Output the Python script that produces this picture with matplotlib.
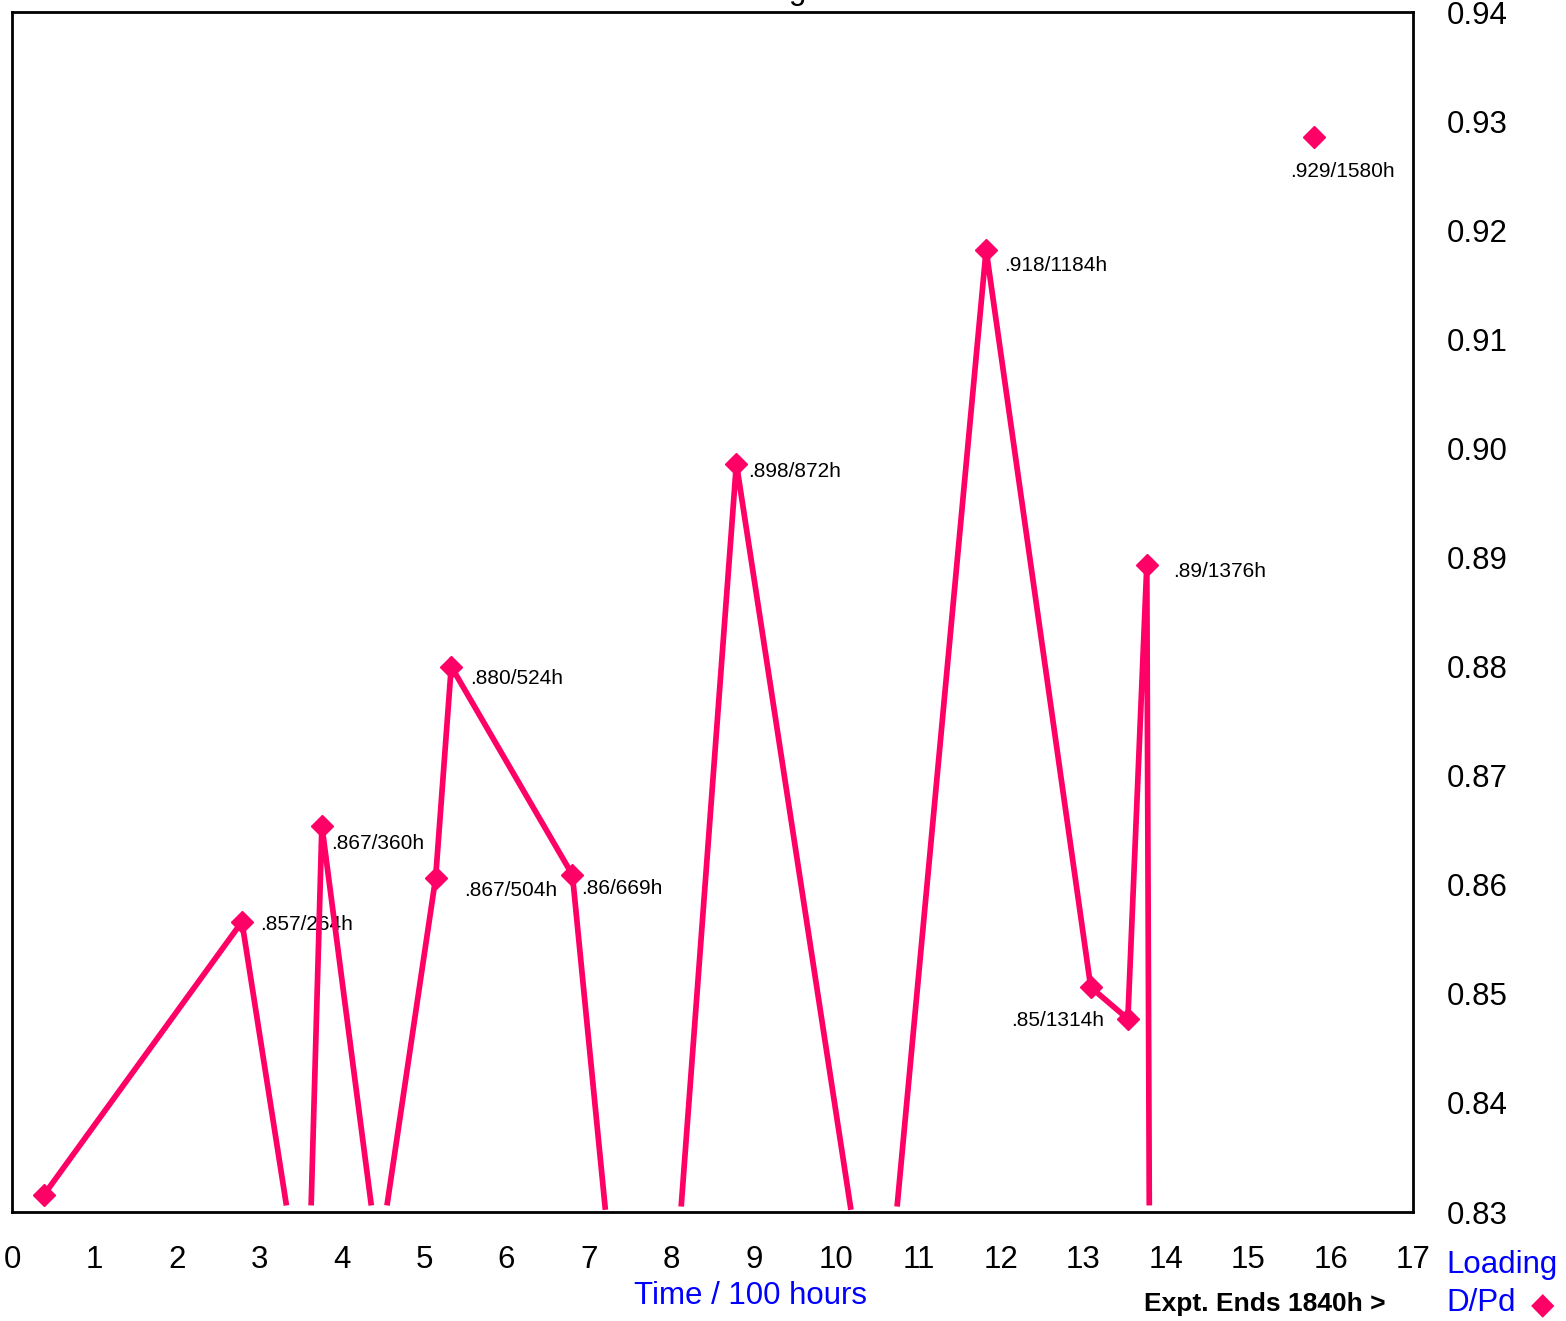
import matplotlib
matplotlib.use("Agg")
import matplotlib.pyplot as plt

plt.rcParams['font.family'] = ['Liberation Sans', 'DejaVu Sans']

nan = float('nan')

# loading curve, time in units of 100 h, D/Pd ratio
# the curve drops off the bottom of the chart between each pair of ~0.8305
# vertices, so a nan leaves that part out
t_line = [0.39, 2.79, 3.33, nan, 3.63, 3.76, 4.36, nan, 4.55, 5.14, 5.33,
          6.80, 7.20, nan, 8.12, 8.79, 10.18, nan, 10.74, 11.82, 13.09,
          13.54, 13.77, 13.80]
dpd_line = [0.8316, 0.8566, 0.8306, nan, 0.8306, 0.8654, 0.8306, nan, 0.8306,
            0.8606, 0.8800, 0.8609, 0.8302, nan, 0.8305, 0.8986, 0.8302, nan,
            0.8305, 0.9182, 0.8506, 0.8477, 0.8893, 0.8306]

# measured points (diamonds)
t_pts = [0.39, 2.79, 3.76, 5.14, 5.33, 6.80, 8.79, 11.82, 13.09, 13.54, 13.77, 15.80]
dpd_pts = [0.8316, 0.8566, 0.8654, 0.8606, 0.8800, 0.8609, 0.8986, 0.9182,
           0.8506, 0.8477, 0.8893, 0.9285]

# point labels: text, x, y of the label's left/centre
lbl_text = [".857/264h", ".867/360h", ".867/504h", ".880/524h", ".86/669h",
            ".898/872h", ".918/1184h", ".89/1376h", ".85/1314h", ".929/1580h"]
lbl_t = [3.01, 3.87, 5.49, 5.56, 6.91, 8.93, 12.04, 14.09, 12.12, 15.51]
lbl_v = [0.8564, 0.8638, 0.8595, 0.8789, 0.8597, 0.8979, 0.9168, 0.8887,
         0.8476, 0.9254]

x_ticks = list(range(0, 18))
y_ticks = [0.83, 0.84, 0.85, 0.86, 0.87, 0.88, 0.89, 0.90, 0.91, 0.92, 0.93, 0.94]

pink = "#ff0066"
blue = "#0000ff"

fig = plt.figure(figsize=(15.66, 13.21), dpi=100)
ax = fig.add_axes([12 / 1566, 109 / 1321, 1401 / 1566, 1200 / 1321])

ax.plot(t_line, dpd_line, color=pink, lw=4.1, solid_capstyle='butt',
        solid_joinstyle='miter', zorder=3)
ax.plot(t_pts, dpd_pts, ls='none', marker='D', ms=11.5, color=pink,
        mec=pink, zorder=4)

for s, xx, yy in zip(lbl_text, lbl_t, lbl_v):
    ax.text(xx, yy, s, fontsize=15, ha='left', va='center', zorder=2)

ax.set_xlim(0, 17)
ax.set_ylim(0.83, 0.94)
ax.set_xticks(x_ticks)
ax.set_xticklabels([str(v) for v in x_ticks])
ax.set_yticks(y_ticks)
ax.set_yticklabels(["%.2f" % v for v in y_ticks])
ax.yaxis.tick_right()
ax.tick_params(axis='x', length=0, pad=24, labelsize=22.5)
ax.tick_params(axis='y', length=0, pad=24, labelsize=22.5)
for sp in ax.spines.values():
    sp.set_linewidth(2)

fig.text(750 / 1566, 1 - 1296 / 1321, "Time / 100 hours", color=blue,
         fontsize=22.5, ha='center', va='center')
fig.text(1265 / 1566, 1 - 1304 / 1321, "Expt. Ends 1840h >", fontsize=19,
         fontweight='bold', ha='center', va='center')
fig.text(1446 / 1566, 1 - 1265 / 1321, "Loading", color=blue, fontsize=22.5,
         ha='left', va='center')
fig.text(1446 / 1566, 1 - 1303 / 1321, "D/Pd", color=blue, fontsize=22.5,
         ha='left', va='center')
fig.text(1543 / 1566, 1 - 1306 / 1321, "\u25c6", color=pink, fontsize=22,
         family=['DejaVu Sans'], ha='center', va='center')
# title sits just above the canvas, only the descender shows
fig.text(712 / 1566, 1 + 1 / 1321, "D/Pd Loading", fontsize=22.5,
         ha='center', va='baseline')

fig.savefig("out.png", dpi=100)
